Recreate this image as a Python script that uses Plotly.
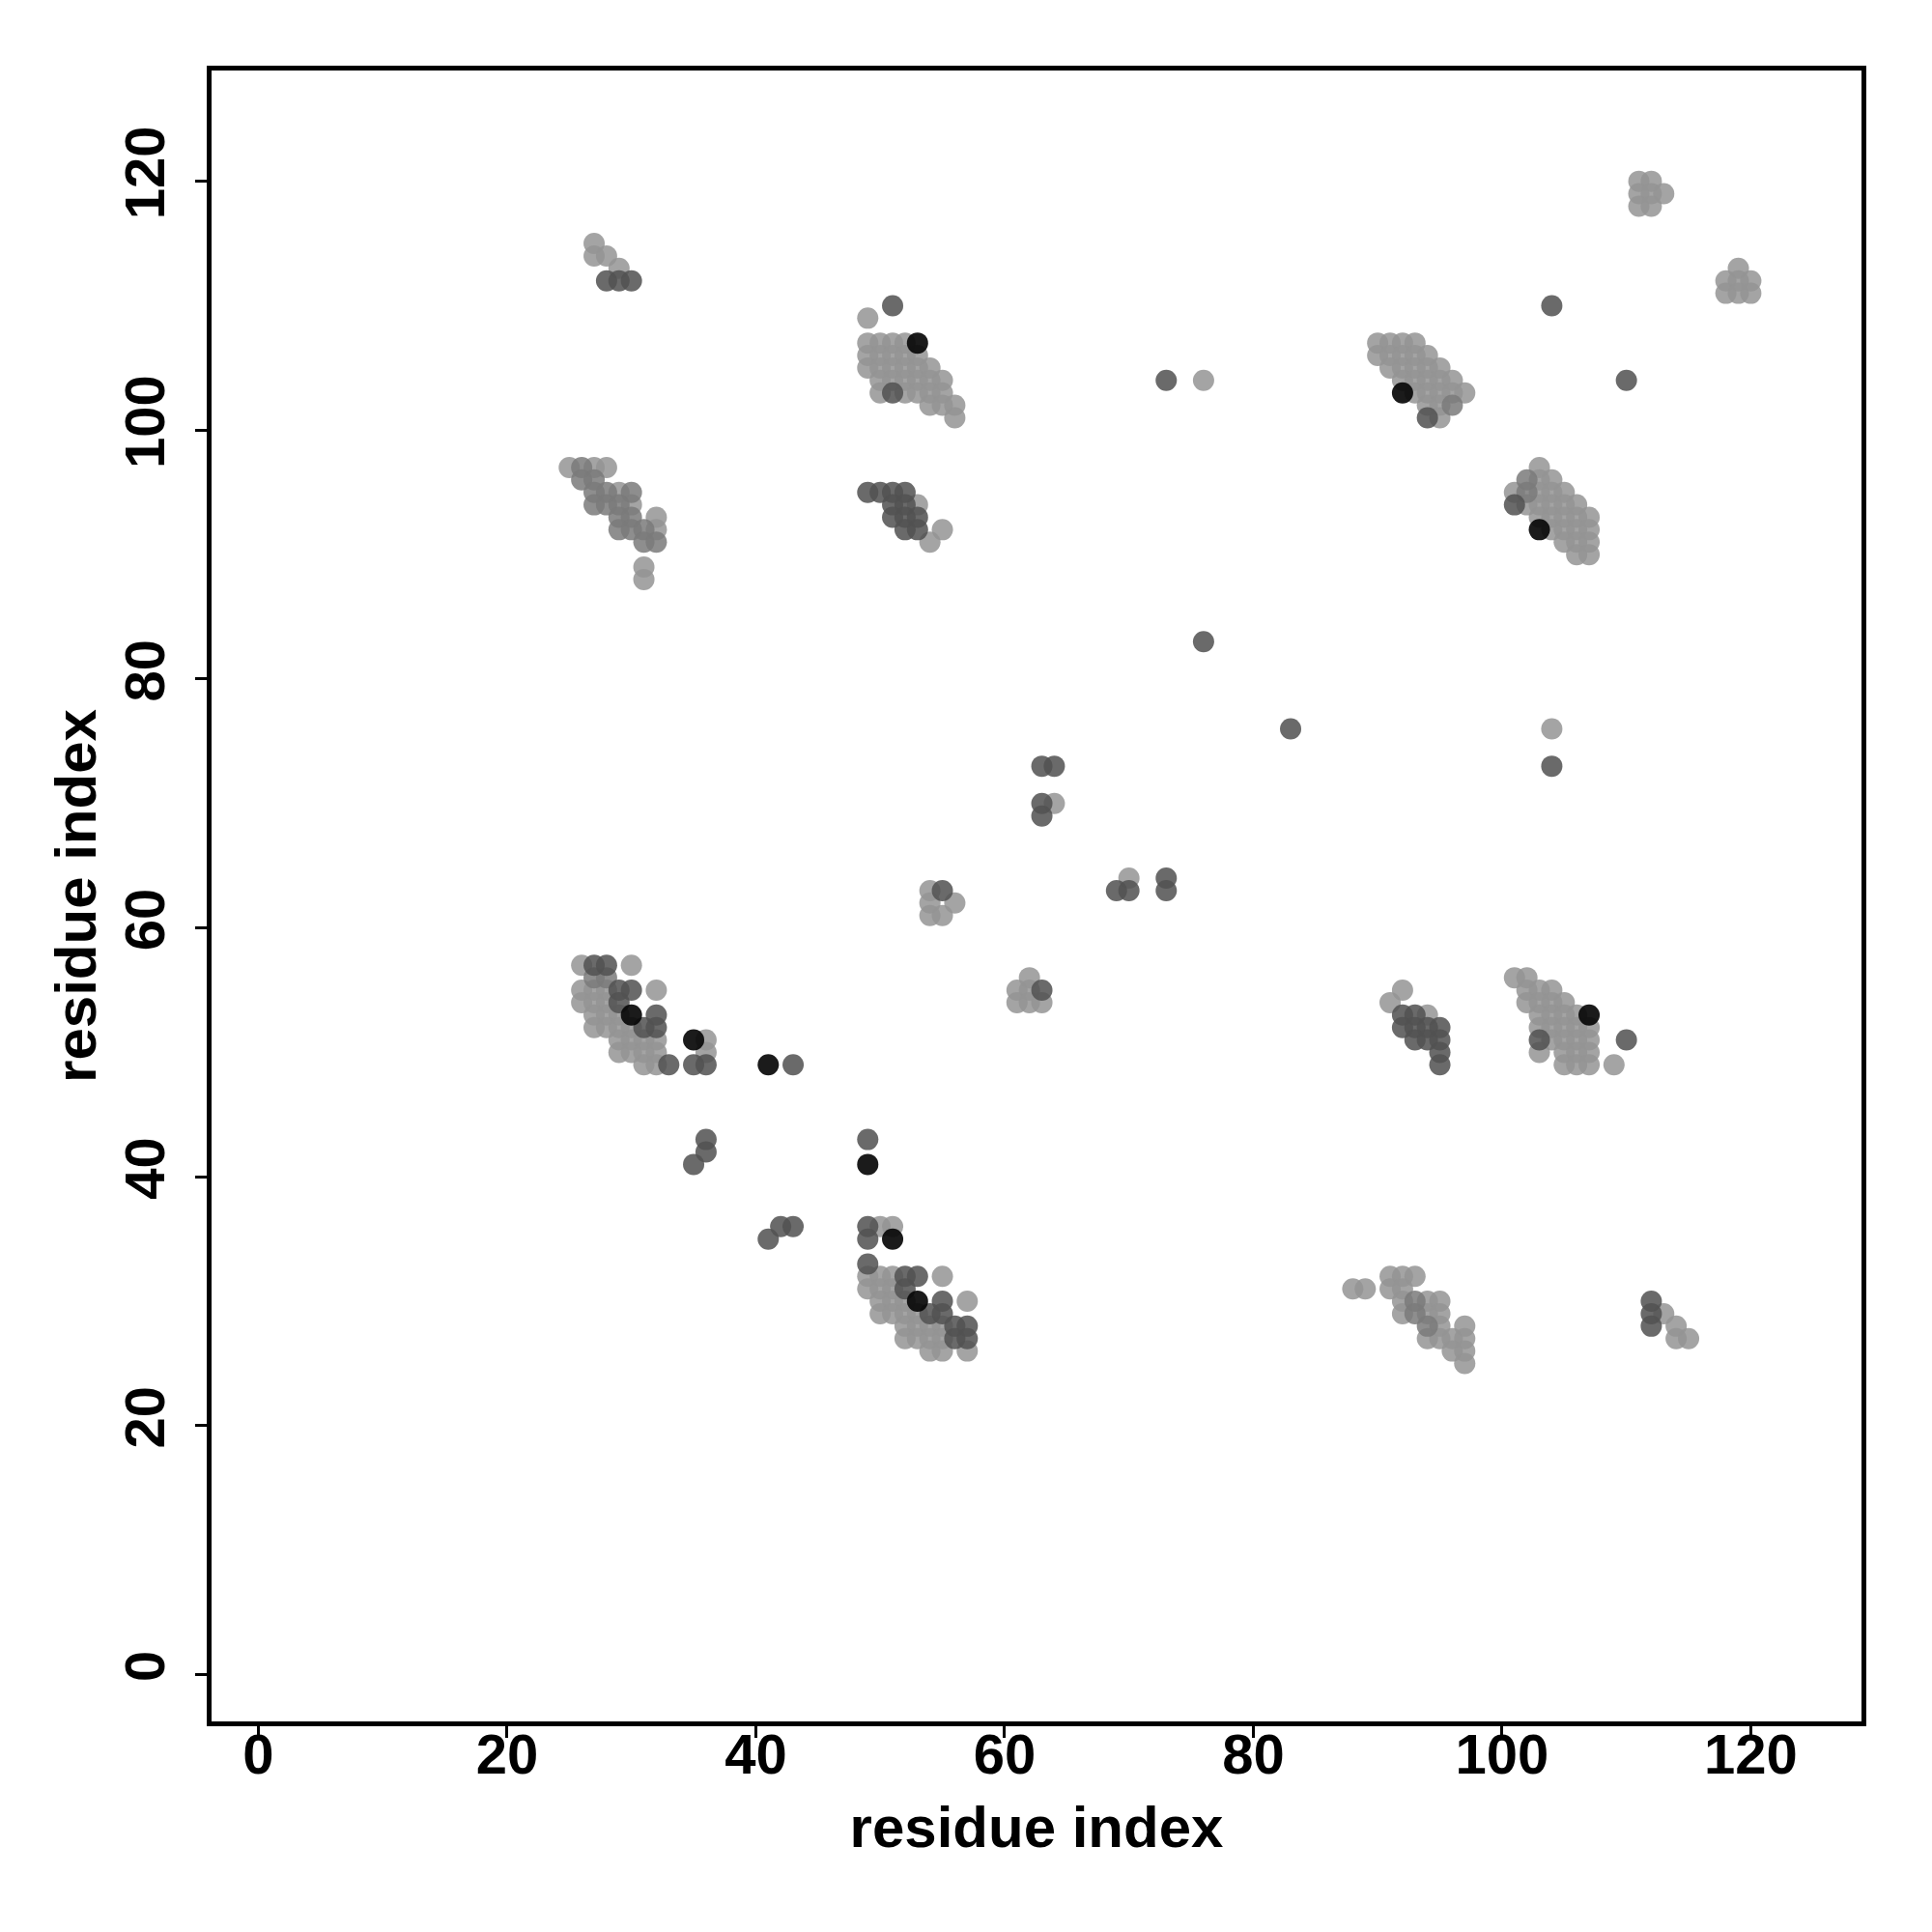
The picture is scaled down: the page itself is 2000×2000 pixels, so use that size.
import plotly.graph_objects as go

# Contact map points, grouped by shade (x = residue i, y = residue j)
light_pts = [
    (27,115),(27,114),(28,114),(29,113),
    (25,97),(27,97),(28,97),(29,95),(30,94),(32,93),(32,92),(31,89),(31,88),
    (49,109),
    (49,107),(50,107),(51,107),(52,107),
    (49,106),(50,106),(51,106),(52,106),(53,106),
    (49,105),(50,105),(51,105),(52,105),(53,105),(54,105),
    (50,104),(51,104),(52,104),(53,104),(54,104),(55,104),
    (50,103),(52,103),(53,103),(54,103),(55,103),
    (54,102),(55,102),(56,102),(56,101),
    (53,94),(55,92),(54,91),
    (90,107),(91,107),(92,107),(93,107),
    (90,106),(91,106),(92,106),(93,106),(94,106),
    (91,105),(92,105),(93,105),(94,105),(95,105),
    (92,104),(93,104),(94,104),(95,104),(96,104),
    (93,103),(94,103),(95,103),(96,103),(97,103),
    (94,102),(95,102),(95,101),
    (76,104),(104,76),
    (103,97),(103,96),(104,96),(101,95),(103,95),(104,95),(105,95),
    (102,94),(103,94),(104,94),(105,94),(106,94),
    (103,93),(104,93),(105,93),(106,93),(107,93),
    (104,92),(105,92),(106,92),(107,92),
    (105,91),(106,91),(107,91),(106,90),(107,90),
    (64,70),(54,63),(54,62),(56,62),(54,61),(55,61),(70,64),
    (61,55),(62,55),(62,56),(61,54),(62,54),(63,54),
    (26,57),(30,57),(26,55),(27,55),(28,55),(32,55),(26,54),(27,54),(28,54),
    (27,53),(28,53),(29,53),(27,52),(28,52),(29,52),(30,52),
    (29,51),(30,51),(31,51),(32,51),(36,51),
    (29,50),(30,50),(31,50),(32,50),(36,50),(31,49),(32,49),
    (50,36),(51,36),(49,32),(50,32),(51,32),(55,32),(49,31),(50,31),(51,31),
    (50,30),(51,30),(52,30),(57,30),(50,29),(51,29),(52,29),(53,29),
    (52,28),(53,28),(54,28),(55,28),(52,27),(53,27),(54,27),(55,27),
    (54,26),(55,26),(57,26),
    (92,55),(91,54),(94,53),
    (101,56),(102,56),(102,55),(103,55),(104,55),
    (102,54),(103,54),(104,54),(105,54),
    (103,53),(104,53),(105,53),(106,53),
    (103,52),(104,52),(105,52),(106,52),(107,52),
    (104,51),(105,51),(106,51),(107,51),
    (103,50),(105,50),(106,50),(107,50),
    (105,49),(106,49),(107,49),(109,49),
    (88,31),(89,31),(91,32),(92,32),(93,32),(91,31),(92,31),
    (92,30),(94,30),(95,30),(92,29),(94,29),(95,29),(95,28),(97,28),
    (94,27),(95,27),(96,27),(97,27),(96,26),(97,26),(97,25),
    (113,29),(114,28),(114,27),(115,27),
    (111,120),(112,120),(111,119),(112,119),(113,119),(111,118),(112,118),
    (119,113),(118,112),(119,112),(120,112),(118,111),(119,111),(120,111),
]

mid_pts = [
    (26,97),(26,96),(27,96),(27,95),(28,95),(30,95),(27,94),(28,94),(29,94),
    (29,93),(30,93),(29,92),(30,92),(31,92),(31,91),(32,91),
    (96,102),(102,96),(102,95),
    (27,56),(28,56),
    (93,30),(93,29),(94,28),
]

dark_pts = [
    (28,112),(29,112),(30,112),
    (51,110),(51,103),
    (49,95),(50,95),(51,95),(52,95),(51,94),(52,94),(51,93),(52,93),(53,93),(52,92),(53,92),
    (94,101),(73,104),(104,110),(110,104),(101,94),
    (76,83),(83,76),(104,73),
    (63,73),(64,73),(63,70),(63,69),
    (55,63),(69,63),(70,63),(73,64),(73,63),(63,55),
    (27,57),(28,57),(29,55),(30,55),(29,54),(32,53),(31,52),(32,52),(33,49),(35,49),(36,49),
    (43,49),(36,43),(36,42),(35,41),(49,43),(42,36),(43,36),(41,35),
    (49,36),(49,35),(49,33),(52,32),(53,32),(52,31),(55,30),(54,29),(55,29),
    (56,28),(57,28),(56,27),(57,27),
    (92,53),(93,53),(92,52),(93,52),(94,52),(95,52),(93,51),(94,51),(95,51),(95,50),(95,49),
    (103,51),(110,51),
    (112,30),(112,29),(112,28),
]

black_pts = [
    (53,107),(92,103),(103,92),(30,53),(35,51),(41,49),(49,41),(51,35),(53,30),(107,53),
]

tick_vals = [0, 20, 40, 60, 80, 100, 120]
axis_title = "residue index"

groups = [
    (light_pts, "rgba(148,148,148,0.85)"),
    (mid_pts, "rgba(122,122,122,0.85)"),
    (dark_pts, "rgba(82,82,82,0.86)"),
    (black_pts, "rgba(8,8,8,0.92)"),
]

fig = go.Figure()
for pts, col in groups:
    fig.add_trace(go.Scatter(
        x=[p[0] for p in pts], y=[p[1] for p in pts],
        mode="markers",
        marker=dict(size=22, color=col, line=dict(width=0)),
        hoverinfo="x+y", showlegend=False,
    ))

font_family = "Liberation Sans, Arial, sans-serif"
axis_common = dict(
    range=[-3.76, 128.9],
    tickvals=tick_vals,
    ticktext=[str(v) for v in tick_vals],
    ticks="outside", ticklen=12, tickwidth=3, tickcolor="black",
    showline=True, linewidth=4.5, linecolor="black", mirror=True,
    showgrid=False, zeroline=False,
    tickfont=dict(family=font_family, size=58, color="black", weight="bold"),
)

fig.update_layout(
    width=2000, height=2000,
    margin=dict(l=211, r=81, t=65, b=226),
    plot_bgcolor="white", paper_bgcolor="white",
    font=dict(family=font_family, color="black"),
    xaxis=dict(**axis_common, ticklabelstandoff=-32,
               title=dict(text=axis_title, standoff=24,
                          font=dict(family=font_family, size=60, color="black", weight="bold"))),
    yaxis=dict(**axis_common, tickangle=-90, ticklabelstandoff=9,
               title=dict(text=axis_title, standoff=0,
                          font=dict(family=font_family, size=60, color="black", weight="bold"))),
)

fig.write_html("out.html")
